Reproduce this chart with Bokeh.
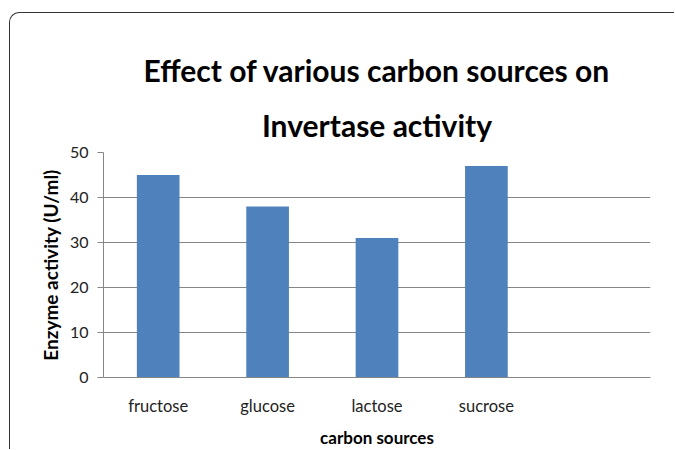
from bokeh.plotting import figure
from bokeh.models import Range1d, FixedTicker, Title, ColumnDataSource
from bokeh.embed import file_html
from bokeh.resources import INLINE

categories = ["fructose", "glucose", "lactose", "sucrose"]
activity = [45, 38, 31, 47]
y_ticks = [0, 10, 20, 30, 40, 50]
n_slots = 5

FONT = "Lato"
x_pos = [i + 0.5 for i in range(len(categories))]
src = ColumnDataSource(dict(x=x_pos, top=activity, cat=categories))

p = figure(width=665, height=437, output_backend="svg", toolbar_location=None,
           x_range=Range1d(0, n_slots), y_range=Range1d(0, 50),
           min_border_left=93, min_border_right=25, min_border_top=139, min_border_bottom=70,
           margin=(12, 0, 0, 9),
           styles={"border-left": "1px solid #333333", "border-top": "1px solid #333333",
                   "border-top-left-radius": "10px", "overflow": "hidden"})
p.outline_line_color = None
p.background_fill_color = "white"
p.border_fill_color = None

p.vbar(x="x", top="top", width=0.39, source=src, fill_color="#4F81BD", line_color=None)

# grid
p.xgrid.grid_line_color = None
p.ygrid.ticker = FixedTicker(ticks=y_ticks)
p.ygrid.grid_line_color = "#868686"
p.ygrid.grid_line_width = 1

# y axis
p.yaxis.ticker = FixedTicker(ticks=y_ticks)
p.yaxis.axis_line_color = "#868686"
p.yaxis.major_tick_line_color = "#868686"
p.yaxis.major_tick_out = 6
p.yaxis.major_tick_in = 0
p.yaxis.minor_tick_line_color = None
p.yaxis.major_label_text_font = FONT
p.yaxis.major_label_text_font_size = "16px"
p.yaxis.major_label_text_color = "#222222"
p.yaxis.major_label_standoff = 9
p.yaxis.axis_label = "Enzyme activity (U/ml)"
p.yaxis.axis_label_text_font = FONT
p.yaxis.axis_label_text_font_style = "bold"
p.yaxis.axis_label_text_font_size = "19px"
p.yaxis.axis_label_text_color = "black"
p.yaxis.axis_label_standoff = 5

# x axis
p.xaxis.ticker = FixedTicker(ticks=x_pos)
p.xaxis.major_label_overrides = {x: c for x, c in zip(x_pos, categories)}
p.xaxis.axis_line_color = "#868686"
p.xaxis.major_tick_line_color = None
p.xaxis.major_tick_out = 0
p.xaxis.major_tick_in = 0
p.xaxis.minor_tick_line_color = None
p.xaxis.major_label_text_font = FONT
p.xaxis.major_label_text_font_size = "16.5px"
p.xaxis.major_label_text_color = "#222222"
p.xaxis.major_label_standoff = 18
p.xaxis.axis_label = "carbon sources"
p.xaxis.axis_label_text_font = FONT
p.xaxis.axis_label_text_font_style = "bold"
p.xaxis.axis_label_text_font_size = "17px"
p.xaxis.axis_label_text_color = "black"
p.xaxis.axis_label_standoff = 8

# titles (inner line added first)
t2 = Title(text="Invertase activity", align="center", text_font=FONT,
           text_font_size="30px", text_font_style="bold", text_color="black", standoff=20)
t1 = Title(text="Effect of various carbon sources on", align="center", text_font=FONT,
           text_font_size="30px", text_font_style="bold", text_color="black", standoff=13)
p.add_layout(t2, "above")
p.add_layout(t1, "above")

open("out.html", "w").write(file_html(p, INLINE))
